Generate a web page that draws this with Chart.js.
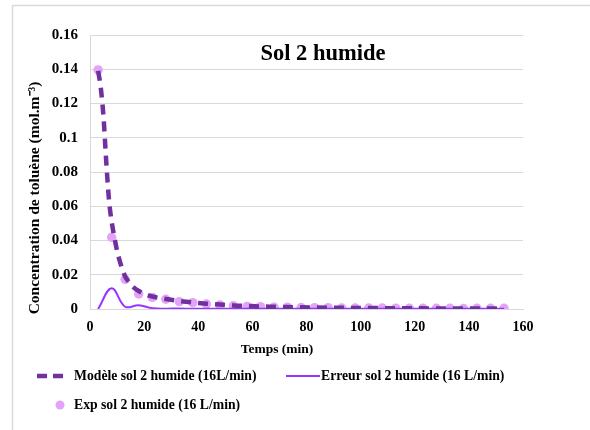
<!DOCTYPE html>
<html>
<head>
<meta charset="utf-8">
<script src="https://cdn.jsdelivr.net/npm/chart.js@4/dist/chart.umd.min.js"></script>
<style>
html,body{margin:0;padding:0;background:#fff;}
#wrap{position:relative;width:590px;height:430px;}
</style>
</head>
<body>
<div id="wrap"><canvas id="c"></canvas></div>
<script>
// ---- data ----
const chartTitle = "Sol 2 humide";
const xAxisTitle = "Temps (min)";
const yAxisTitle = "Concentration de toluène (mol.m⁻³)";
const seriesNames = ["Modèle sol 2 humide (16L/min)", "Erreur sol 2 humide (16 L/min)", "Exp sol 2 humide (16 L/min)"];

const xTicks = [0, 20, 40, 60, 80, 100, 120, 140, 160];
const yTicks = [0, 0.02, 0.04, 0.06, 0.08, 0.1, 0.12, 0.14, 0.16];
const yTickLabels = ["0", "0.02", "0.04", "0.06", "0.08", "0.1", "0.12", "0.14", "0.16"];

const expTimes = [3, 8, 13, 18, 23, 28, 33, 38, 43, 48, 53, 58, 63, 68, 73, 78, 83, 88, 93, 98, 103, 108, 113, 118, 123, 128, 133, 138, 143, 148, 153];
const expValues = [0.1396, 0.0419, 0.0173, 0.0088, 0.0068, 0.0057, 0.0043, 0.0037, 0.0029, 0.0023, 0.0019, 0.0015, 0.0014, 0.0011, 0.0011, 0.0009, 0.0008, 0.0008, 0.0006, 0.0006, 0.0006, 0.0006, 0.0005, 0.0004, 0.0004, 0.0004, 0.0004, 0.0003, 0.0004, 0.0004, 0.0004];

const modelTimes = [3, 4, 5, 6, 7, 8, 9, 10, 11, 12, 13, 14, 16, 18, 20, 23, 28, 33, 38, 43, 48, 53, 58, 63, 68, 73, 78, 83, 88, 93, 98, 103, 108, 113, 118, 123, 128, 133, 138, 143, 148, 153];
const modelValues = [0.139, 0.129, 0.112, 0.086, 0.064, 0.051, 0.042, 0.034, 0.028, 0.023, 0.019, 0.0165, 0.0128, 0.0105, 0.0089, 0.0073, 0.0058, 0.0047, 0.0038, 0.0031, 0.0026, 0.0021, 0.0018, 0.0015, 0.0013, 0.0011, 0.00095, 0.00085, 0.00076, 0.00068, 0.0006, 0.00055, 0.0005, 0.00045, 0.0004, 0.00037, 0.00034, 0.00031, 0.00029, 0.00027, 0.00025, 0.00023];

const errorTimes = [3, 8, 13, 18, 23, 28, 33, 38, 43, 48, 53, 58, 63, 68, 73, 78, 83, 88, 93, 98, 103, 108, 113, 118, 123, 128, 133, 138, 143, 148, 153];
const errorValues = [0, 0.0121, 0.0013, 0.0022, 0.0005, 0.0002, 0.0003, 0.0001, 0.0002, 0.0002, 0.0002, 0.0002, 0.0001, 0.0002, 0.0001, 0.0001, 0.0001, 0.0001, 0.0001, 0.0001, 0.0001, 0.0001, 0.0001, 0.0001, 0.0001, 0.0001, 0.0001, 0.0001, 0.0001, 0.0001, 0.0001];

// ---- styles ----
const modelColor = '#7030A0';
const errorColor = '#9933FF';
const expColor = '#E3A3F7';
const gridColor = '#d9d9d9';
const serif = '"Liberation Serif", "Times New Roman", serif';

const toXY = (xs, ys) => xs.map((x, i) => ({x: x, y: ys[i]}));

const decorPlugin = {
  id: 'decor',
  beforeDraw(chart) {
    const ctx = chart.ctx;
    ctx.save();
    ctx.fillStyle = '#fff';
    ctx.fillRect(0, 0, chart.width, chart.height);
    ctx.strokeStyle = gridColor;
    ctx.lineWidth = 1.5;
    ctx.beginPath();
    ctx.moveTo(12.5, chart.height + 2);
    ctx.lineTo(12.5, 5.5);
    ctx.lineTo(chart.width + 2, 5.5);
    ctx.stroke();
    ctx.restore();
  },
  afterDraw(chart) {
    const ctx = chart.ctx;
    ctx.save();
    ctx.fillStyle = '#000';
    ctx.textAlign = 'center';
    ctx.textBaseline = 'middle';
    // chart title inside plot area
    ctx.font = 'bold 22.5px ' + serif;
    ctx.fillText(chartTitle, 323, 54);
    // x axis title
    ctx.font = 'bold 13.5px ' + serif;
    ctx.fillText(xAxisTitle, 277, 350);
    // y axis title
    ctx.save();
    ctx.translate(35, 198);
    ctx.rotate(-Math.PI / 2);
    ctx.font = 'bold 15.5px ' + serif;
    ctx.fillText(yAxisTitle, 0, 0);
    ctx.restore();

    // legend
    ctx.textAlign = 'left';
    ctx.font = 'bold 13.7px ' + serif;
    // model
    ctx.strokeStyle = modelColor;
    ctx.lineWidth = 4.5;
    ctx.setLineDash([10, 6]);
    ctx.beginPath();
    ctx.moveTo(37, 376); ctx.lineTo(68, 376);
    ctx.stroke();
    ctx.setLineDash([]);
    ctx.fillText(seriesNames[0], 74, 376);
    // error
    ctx.strokeStyle = errorColor;
    ctx.lineWidth = 2;
    ctx.beginPath();
    ctx.moveTo(286, 376); ctx.lineTo(320, 376);
    ctx.stroke();
    ctx.fillText(seriesNames[1], 321, 376);
    // exp
    ctx.fillStyle = expColor;
    ctx.beginPath();
    ctx.arc(60, 405, 4.5, 0, Math.PI * 2);
    ctx.fill();
    ctx.fillStyle = '#000';
    ctx.fillText(seriesNames[2], 74, 405);
    ctx.restore();
  }
};

new Chart(document.getElementById('c'), {
  type: 'scatter',
  data: {
    datasets: [
      {
        label: seriesNames[0],
        data: toXY(modelTimes, modelValues),
        showLine: true,
        borderColor: modelColor,
        borderWidth: 4.5,
        borderDash: [10, 7],
        pointRadius: 0,
        cubicInterpolationMode: 'monotone',
        order: 0
      },
      {
        label: seriesNames[1],
        data: toXY(errorTimes, errorValues),
        showLine: true,
        borderColor: errorColor,
        borderWidth: 2,
        pointRadius: 0,
        tension: 0.4,
        order: 1
      },
      {
        label: seriesNames[2],
        data: toXY(expTimes, expValues),
        showLine: false,
        backgroundColor: expColor,
        borderColor: expColor,
        pointRadius: 4.7,
        pointBorderWidth: 0,
        order: 2
      }
    ]
  },
  options: {
    responsive: true,
    maintainAspectRatio: false,
    devicePixelRatio: 1,
    animation: false,
    layout: {padding: {left: 12, top: 35, right: 67, bottom: 91}},
    plugins: {legend: {display: false}, title: {display: false}, tooltip: {enabled: false}},
    scales: {
      x: {
        type: 'linear',
        min: xTicks[0],
        max: xTicks[xTicks.length - 1],
        afterBuildTicks(s) { s.ticks = xTicks.map(v => ({value: v})); },
        afterFit(s) { s.height = 30; },
        grid: {display: false, drawTicks: false},
        border: {display: true, color: gridColor, width: 1},
        ticks: {
          padding: 10,
          maxRotation: 0,
          color: '#000',
          font: {family: serif, size: 14, weight: 'bold'},
          callback: v => String(v)
        }
      },
      y: {
        type: 'linear',
        min: yTicks[0],
        max: yTicks[yTicks.length - 1],
        afterBuildTicks(s) { s.ticks = yTicks.map(v => ({value: v})); },
        afterFit(s) { s.width = 78; },
        grid: {color: gridColor, lineWidth: 1, drawTicks: false},
        border: {display: true, color: gridColor, width: 1},
        ticks: {
          padding: 12,
          color: '#000',
          font: {family: serif, size: 15, weight: 'bold'},
          callback: (v, i) => yTickLabels[i]
        }
      }
    }
  },
  plugins: [decorPlugin]
});
</script>
</body>
</html>
